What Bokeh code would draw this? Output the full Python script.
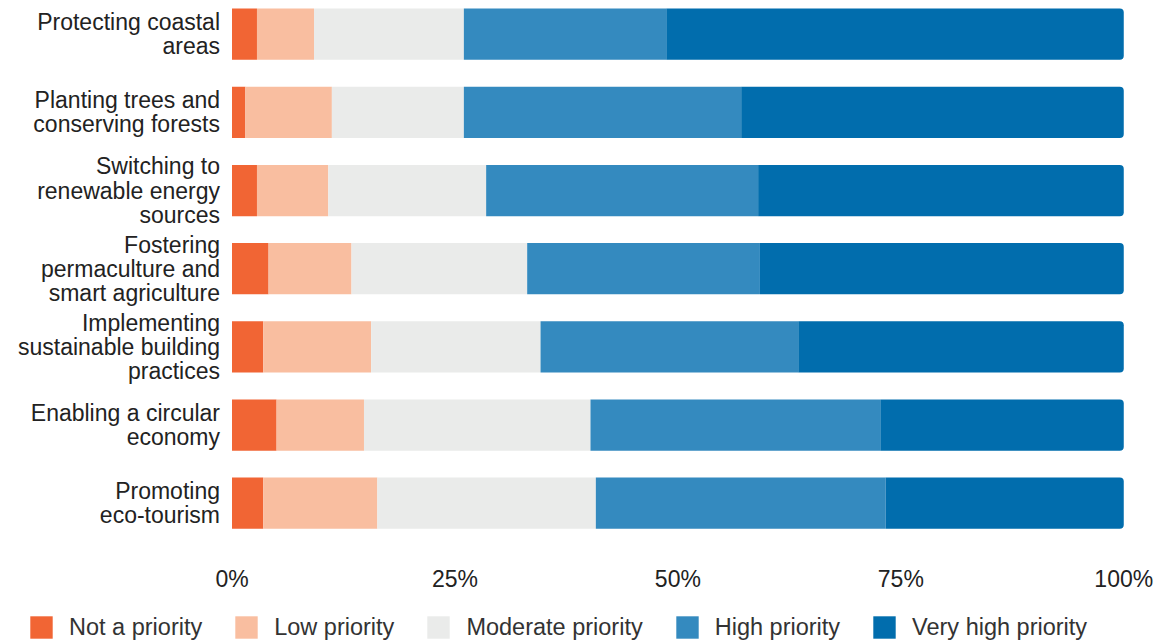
from bokeh.plotting import figure
from bokeh.layouts import column
from bokeh.models import (ColumnDataSource, Range1d, FixedTicker, PrintfTickFormatter,
                          Legend, LegendItem)
from bokeh.core.properties import value
from bokeh.embed import file_html
from bokeh.resources import INLINE

# Survey: priority given to each climate action (share of respondents, %)
actions = [
    "Protecting coastal\nareas",
    "Planting trees and\nconserving forests",
    "Switching to\nrenewable energy\nsources",
    "Fostering\npermaculture and\nsmart agriculture",
    "Implementing\nsustainable building\npractices",
    "Enabling a circular\neconomy",
    "Promoting\neco-tourism",
]
not_a_priority = [2.8, 1.5, 2.8, 4.1, 3.5, 5.0, 3.5]
low_priority = [6.4, 9.7, 8.0, 9.3, 12.1, 9.8, 12.8]
moderate_priority = [16.8, 14.8, 17.7, 19.7, 19.0, 25.4, 24.5]
high_priority = [22.7, 31.1, 30.5, 26.1, 28.9, 32.5, 32.5]
very_high_priority = [51.3, 42.9, 41.0, 40.8, 36.5, 27.3, 26.7]

series = ["not_a_priority", "low_priority", "moderate_priority", "high_priority", "very_high_priority"]
series_labels = ["Not a priority", "Low priority", "Moderate priority", "High priority", "Very high priority"]
colors = ["#F16534", "#F9BEA0", "#EAEBEA", "#348ABF", "#016DAD"]
x_ticks = [0, 25, 50, 75, 100]

positions = list(range(len(actions)))
source = ColumnDataSource(dict(
    y=positions,
    label=actions,
    not_a_priority=not_a_priority,
    low_priority=low_priority,
    moderate_priority=moderate_priority,
    high_priority=high_priority,
    very_high_priority=very_high_priority,
))

FONT = "Liberation Sans"
WIDTH = 1160
BAR_HEIGHT = 0.656

# main chart: the frame spans the full width; the left part of the x range holds the row labels
p = figure(width=WIDTH, height=600, output_backend="svg", toolbar_location=None,
           x_range=Range1d(-25.96, 104.12), y_range=Range1d(6.605, -0.431),
           min_border_left=0, min_border_right=0, min_border_top=0, min_border_bottom=50)
p.outline_line_color = None
p.xgrid.visible = False
p.ygrid.visible = False
p.yaxis.visible = False
p.background_fill_color = "white"
p.border_fill_color = "white"

renderers = p.hbar_stack(series, y="y", height=BAR_HEIGHT, color=colors, source=source, line_width=0)
renderers[-1].glyph.border_radius = (0, 4, 4, 0)

# row labels, right-aligned just left of the 0% baseline
p.text(x=0, y="y", text="label", source=source, x_offset=-12,
       text_align="right", text_baseline="middle",
       text_font=value(FONT), text_font_size="23px", text_color="#222222",
       text_line_height=0.93)

# percentage axis
p.xaxis.ticker = FixedTicker(ticks=x_ticks)
p.xaxis.formatter = PrintfTickFormatter(format="%d%%")
p.xaxis.axis_line_color = None
p.xaxis.major_tick_line_color = None
p.xaxis.minor_tick_line_color = None
p.xaxis.major_tick_out = 0
p.xaxis.major_label_standoff = 15
p.xaxis.major_label_text_font = FONT
p.xaxis.major_label_text_font_size = "23px"
p.xaxis.major_label_text_color = "#222222"

# legend strip below the chart; its swatches come from hidden copies of the stacked bars
lg = figure(width=WIDTH, height=41, output_backend="svg", toolbar_location=None,
            x_range=Range1d(0, 1), y_range=Range1d(0, 1),
            min_border_left=0, min_border_right=0, min_border_top=0, min_border_bottom=0)
lg.axis.visible = False
lg.grid.visible = False
lg.outline_line_color = None
lg.background_fill_color = "white"
lg.border_fill_color = "white"

swatches = lg.hbar_stack(series, y="y", height=BAR_HEIGHT, color=colors, source=source,
                         line_width=0, visible=False)
for r in swatches:
    r.glyph.border_radius = 3

legend = Legend(
    items=[LegendItem(label=lab, renderers=[r]) for lab, r in zip(series_labels, swatches)],
    orientation="horizontal", location=(27, 0),
    glyph_width=28, glyph_height=28, label_standoff=14, spacing=30,
    padding=0, margin=0, border_line_color=None, background_fill_alpha=0,
    inactive_fill_alpha=0, click_policy="none",
    label_text_font=FONT, label_text_font_size="23.5px", label_text_color="#333333",
)
lg.add_layout(legend, "center")

layout = column(p, lg, spacing=0)
open("out.html", "w").write(file_html(layout, INLINE))
